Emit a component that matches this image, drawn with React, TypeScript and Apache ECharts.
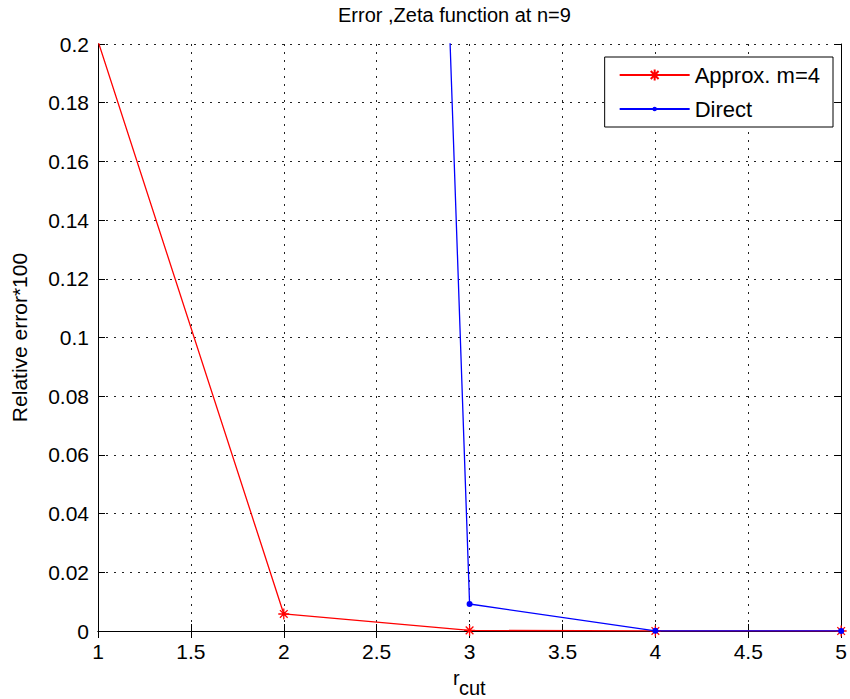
import React, { useEffect, useRef } from "react";
import * as echarts from "echarts";

const FONT = "'Liberation Sans', Arial, sans-serif";

const approxX = [1, 2, 3, 4, 5];
const approxY = [0.201, 0.0058, 0.0002, 0.00002, 0.000005];
const directX = [2, 3, 4, 5];
const directY = [1.83, 0.0092, 0.00005, 0.00001];

const xTicks = { min: 1, max: 5, interval: 0.5 };
const yTicks = { min: 0, max: 0.2, interval: 0.02 };

const ASTERISK = "path://M5,0L5,10M0,5L10,5M1.5,1.5L8.5,8.5M1.5,8.5L8.5,1.5";
const DOT = "path://M0,0L0,0M10,10L10,10M5,3A2,2,0,1,1,5,7A2,2,0,1,1,5,3Z";

export default function App() {
  const ref = useRef<HTMLDivElement>(null);
  useEffect(() => {
    if (!ref.current) return;
    const chart = echarts.init(ref.current, null, { renderer: "svg" });
    const axisLine = { show: true, lineStyle: { color: "#000", width: 1 } };
    const tick = { show: true, inside: true, length: 7, lineStyle: { color: "#000", width: 1 } };
    const split = { show: true, lineStyle: { color: "#222", width: 1, type: [2, 6] as any } };
    chart.setOption({
      animation: false,
      backgroundColor: "#fff",
      title: {
        text: "Error ,Zeta function at n=9",
        left: 338,
        top: 5,
        padding: 0,
        textStyle: { fontSize: 20, fontWeight: "normal", fontFamily: FONT, color: "#000" },
      },
      grid: { left: 98, right: 5, top: 44, bottom: 68, containLabel: false },
      legend: {
        orient: "vertical",
        right: 17,
        top: 57,
        selectedMode: false,
        backgroundColor: "#fff",
        borderColor: "#000",
        borderWidth: 1,
        borderRadius: 0,
        padding: [7, 13, 7, 14],
        itemGap: 12,
        itemWidth: 70,
        itemHeight: 14,
        textStyle: { fontSize: 22, fontFamily: FONT, color: "#000" },
        data: ["Approx. m=4", "Direct"],
      },
      xAxis: [
        {
          type: "value",
          ...xTicks,
          axisLine,
          axisTick: tick,
          splitLine: split,
          axisLabel: { fontSize: 21, fontFamily: FONT, color: "#000", margin: 10 },
        },
        {
          type: "value",
          position: "top",
          ...xTicks,
          axisLine,
          axisTick: tick,
          splitLine: { show: false },
          axisLabel: { show: false },
        },
      ],
      yAxis: [
        {
          type: "value",
          ...yTicks,
          name: "Relative error*100",
          nameLocation: "middle",
          nameRotate: 90,
          nameGap: 68,
          nameTextStyle: { fontSize: 21, fontFamily: FONT, color: "#000" },
          axisLine,
          axisTick: tick,
          splitLine: split,
          axisLabel: { fontSize: 21, fontFamily: FONT, color: "#000", margin: 9 },
        },
        {
          type: "value",
          position: "right",
          ...yTicks,
          axisLine,
          axisTick: tick,
          splitLine: { show: false },
          axisLabel: { show: false },
        },
      ],
      graphic: [
        { type: "text", left: 453, top: 668, style: { text: "r", fontSize: 20, fontFamily: FONT, fill: "#000" } },
        { type: "text", left: 459, top: 678, style: { text: "cut", fontSize: 20, fontFamily: FONT, fill: "#000" } },
      ],
      series: [
        {
          name: "Approx. m=4",
          type: "line",
          xAxisIndex: 0,
          yAxisIndex: 0,
          clip: true,
          data: approxX.map((x, i) => [x, approxY[i]]),
          lineStyle: { color: "#ff0000", width: 1.3 },
          symbol: ASTERISK,
          symbolSize: 11,
          itemStyle: { color: "#ff0000", borderColor: "#ff0000", borderWidth: 1.3 },
          z: 3,
        },
        {
          name: "Direct",
          type: "line",
          xAxisIndex: 0,
          yAxisIndex: 0,
          clip: true,
          data: directX.map((x, i) => [x, directY[i]]),
          lineStyle: { color: "#0000ff", width: 1.3 },
          symbol: DOT,
          symbolSize: 15,
          itemStyle: { color: "#0000ff", borderColor: "#0000ff", borderWidth: 0 },
          z: 4,
        },
      ],
    });
    return () => chart.dispose();
  }, []);
  return (
    <div
      ref={ref}
      style={{ position: "fixed", left: 0, top: 0, width: 850, height: 699, background: "#fff" }}
    />
  );
}
